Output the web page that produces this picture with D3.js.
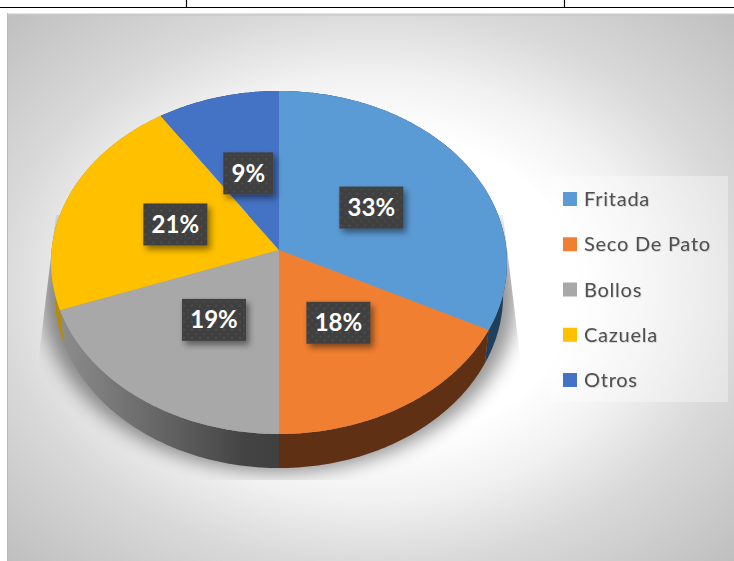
<!DOCTYPE html>
<html>
<head>
<meta charset="utf-8">
<script src="https://d3js.org/d3.v7.min.js"></script>
<style>
  html, body { margin: 0; padding: 0; background: #fff; }
  svg { display: block; }
</style>
</head>
<body>
<svg width="734" height="561"></svg>
<script>
// datos
var categories = ["Fritada", "Seco De Pato", "Bollos", "Cazuela", "Otros"];
var percentValues = [32.5, 17.5, 19.4, 21.3, 9.3];

var topColors = ["#5b9bd5", "#f07f31", "#a8a8a8", "#ffc000", "#4472c4"];
var wallColors = ["#1f3f5c", "#5f3013", "url(#wallGray)", "#b88c00", "#27406e"];

var svg = d3.select("svg"),
    width = 734,
    height = 561;

var defs = svg.append("defs");

// fondo
var bgGrad = defs.append("radialGradient").attr("id", "bgGrad")
    .attr("cx", 0.5).attr("cy", 0.5).attr("r", 0.7071);
[[0, "#ffffff"], [0.4, "#ffffff"], [0.55, "#f1f1f1"], [0.72, "#d9d9d9"], [1, "#bfbfbf"]].forEach(function(s) {
  bgGrad.append("stop").attr("offset", s[0]).attr("stop-color", s[1]);
});

var wallGray = defs.append("linearGradient").attr("id", "wallGray")
    .attr("gradientUnits", "userSpaceOnUse")
    .attr("x1", 62).attr("y1", 0).attr("x2", 279).attr("y2", 0);
wallGray.append("stop").attr("offset", 0).attr("stop-color", "#8c8c8c");
wallGray.append("stop").attr("offset", 0.85).attr("stop-color", "#434343");
wallGray.append("stop").attr("offset", 1).attr("stop-color", "#404040");

defs.append("filter").attr("id", "pieShadow")
    .attr("x", -0.2).attr("y", -0.2).attr("width", 1.4).attr("height", 1.4)
  .append("feGaussianBlur").attr("stdDeviation", 9);

defs.append("filter").attr("id", "boxShadow")
    .attr("x", -0.3).attr("y", -0.3).attr("width", 1.6).attr("height", 1.6)
  .append("feDropShadow").attr("dx", 3).attr("dy", 4).attr("stdDeviation", 3)
    .attr("flood-color", "#000").attr("flood-opacity", 0.45);

defs.append("filter").attr("id", "textShadow")
    .attr("x", -0.1).attr("y", -0.2).attr("width", 1.2).attr("height", 1.4)
  .append("feDropShadow").attr("dx", 0.7).attr("dy", 0.7).attr("stdDeviation", 0.6)
    .attr("flood-color", "#000").attr("flood-opacity", 0.2);

var dots = defs.append("pattern").attr("id", "dots")
    .attr("patternUnits", "userSpaceOnUse")
    .attr("width", 8).attr("height", 8);
dots.append("rect").attr("width", 8).attr("height", 8).attr("fill", "#404040");
dots.append("circle").attr("cx", 2).attr("cy", 2).attr("r", 1).attr("fill", "#525252");
dots.append("circle").attr("cx", 6).attr("cy", 6).attr("r", 1).attr("fill", "#4b4b4b");

defs.append("clipPath").attr("id", "shadowClip")
  .append("polygon").attr("points", "56,215 37,372 37,480 522,480 522,372 503,215");

// tabla de arriba
svg.append("g").attr("stroke", "#000").attr("stroke-width", 1.2)
  .selectAll("line")
  .data([[0, 7.5, 734, 7.5], [186.5, 0, 186.5, 7.5], [564.5, 0, 564.5, 7.5]])
  .enter().append("line")
    .attr("x1", function(d) { return d[0]; })
    .attr("y1", function(d) { return d[1]; })
    .attr("x2", function(d) { return d[2]; })
    .attr("y2", function(d) { return d[3]; });

// area del grafico
svg.append("rect").attr("x", 7).attr("y", 13).attr("width", 727).attr("height", 548)
    .attr("fill", "url(#bgGrad)");
svg.append("rect").attr("x", 7).attr("y", 13).attr("width", 727).attr("height", 1.5).attr("fill", "#e2e2e2");
svg.append("rect").attr("x", 7).attr("y", 14.5).attr("width", 727).attr("height", 1).attr("fill", "#c2c2c2");
svg.append("rect").attr("x", 7).attr("y", 13).attr("width", 1).attr("height", 548).attr("fill", "#b8b8b8");

// proyeccion con perspectiva del disco
var cx = 279, cy = 250, rx = 227.4, ry = 170.6, persp = 0.0729;
var depth = 32.2, bottomX = 0.983, bottomY = 1.01;

function project(angle, r) {
  var u = Math.sin(angle) * r, v = Math.cos(angle) * r, k = 1 + persp * v;
  return [cx + rx * u / k, cy - ry * v / k];
}
function projectBottom(angle) {
  var p = project(angle, 1);
  return [cx + (p[0] - cx) * bottomX, cy + (p[1] - cy) * bottomY + depth];
}
function arcAngles(a0, a1) {
  var n = Math.max(2, Math.ceil((a1 - a0) / 0.01));
  return d3.range(n + 1).map(function(i) { return a0 + (a1 - a0) * i / n; });
}

var pie = d3.pie().sort(null).value(function(d) { return d; });
var slices = pie(percentValues);
var line = d3.line();

// sombra
svg.append("g").attr("clip-path", "url(#shadowClip)")
  .append("path")
    .attr("d", line(arcAngles(0, 2 * Math.PI).map(projectBottom)) + "Z")
    .attr("fill", "#000").attr("opacity", 0.42)
    .attr("filter", "url(#pieShadow)")
    .attr("transform", "translate(279,262) scale(1.06,1.02) translate(-279,-262)");

// paredes
svg.append("g").selectAll("path").data(slices).enter().append("path")
    .attr("fill", function(d, i) { return wallColors[i]; })
    .attr("d", function(d) {
      var angles = arcAngles(d.startAngle, d.endAngle);
      return line(angles.map(function(a) { return project(a, 1); })
        .concat(angles.slice().reverse().map(projectBottom))) + "Z";
    });

// caras de arriba
svg.append("g").selectAll("path").data(slices).enter().append("path")
    .attr("fill", function(d, i) { return topColors[i]; })
    .attr("d", function(d) {
      var pts = arcAngles(d.startAngle, d.endAngle).map(function(a) { return project(a, 1); });
      pts.push([cx, cy]);
      return line(pts) + "Z";
    });

// etiquetas
var labels = svg.append("g").selectAll("g").data(slices).enter().append("g")
    .attr("transform", function(d) {
      var p = project((d.startAngle + d.endAngle) / 2, 0.485);
      return "translate(" + p[0] + "," + p[1] + ")";
    });
labels.append("rect")
    .attr("x", function(d) { return d.value < 10 ? -25 : -32; })
    .attr("y", -21)
    .attr("width", function(d) { return d.value < 10 ? 50 : 64; })
    .attr("height", 42)
    .attr("fill", "url(#dots)")
    .attr("filter", "url(#boxShadow)");
labels.append("text")
    .attr("text-anchor", "middle")
    .attr("y", 8.5)
    .attr("font-family", "Lato, sans-serif")
    .attr("font-weight", 700)
    .attr("font-size", 24)
    .attr("fill", "#fff")
    .text(function(d) { return Math.round(d.value) + "%"; });

// leyenda
var legendY = d3.scalePoint().domain(categories).range([199, 380]);

svg.append("rect").attr("x", 551).attr("y", 176).attr("width", 177).attr("height", 226)
    .attr("fill", "#fff").attr("opacity", 0.35);

var legend = svg.append("g").selectAll("g").data(categories).enter().append("g")
    .attr("transform", function(d) { return "translate(563," + legendY(d) + ")"; });
legend.append("rect")
    .attr("y", -7).attr("width", 14).attr("height", 14)
    .attr("fill", function(d, i) { return topColors[i]; });
legend.append("text")
    .attr("x", 21).attr("y", 7)
    .attr("font-family", "Lato, sans-serif")
    .attr("font-size", 20)
    .attr("letter-spacing", 0.75)
    .attr("fill", "#505050")
    .attr("filter", "url(#textShadow)")
    .text(function(d) { return d; });
</script>
</body>
</html>
